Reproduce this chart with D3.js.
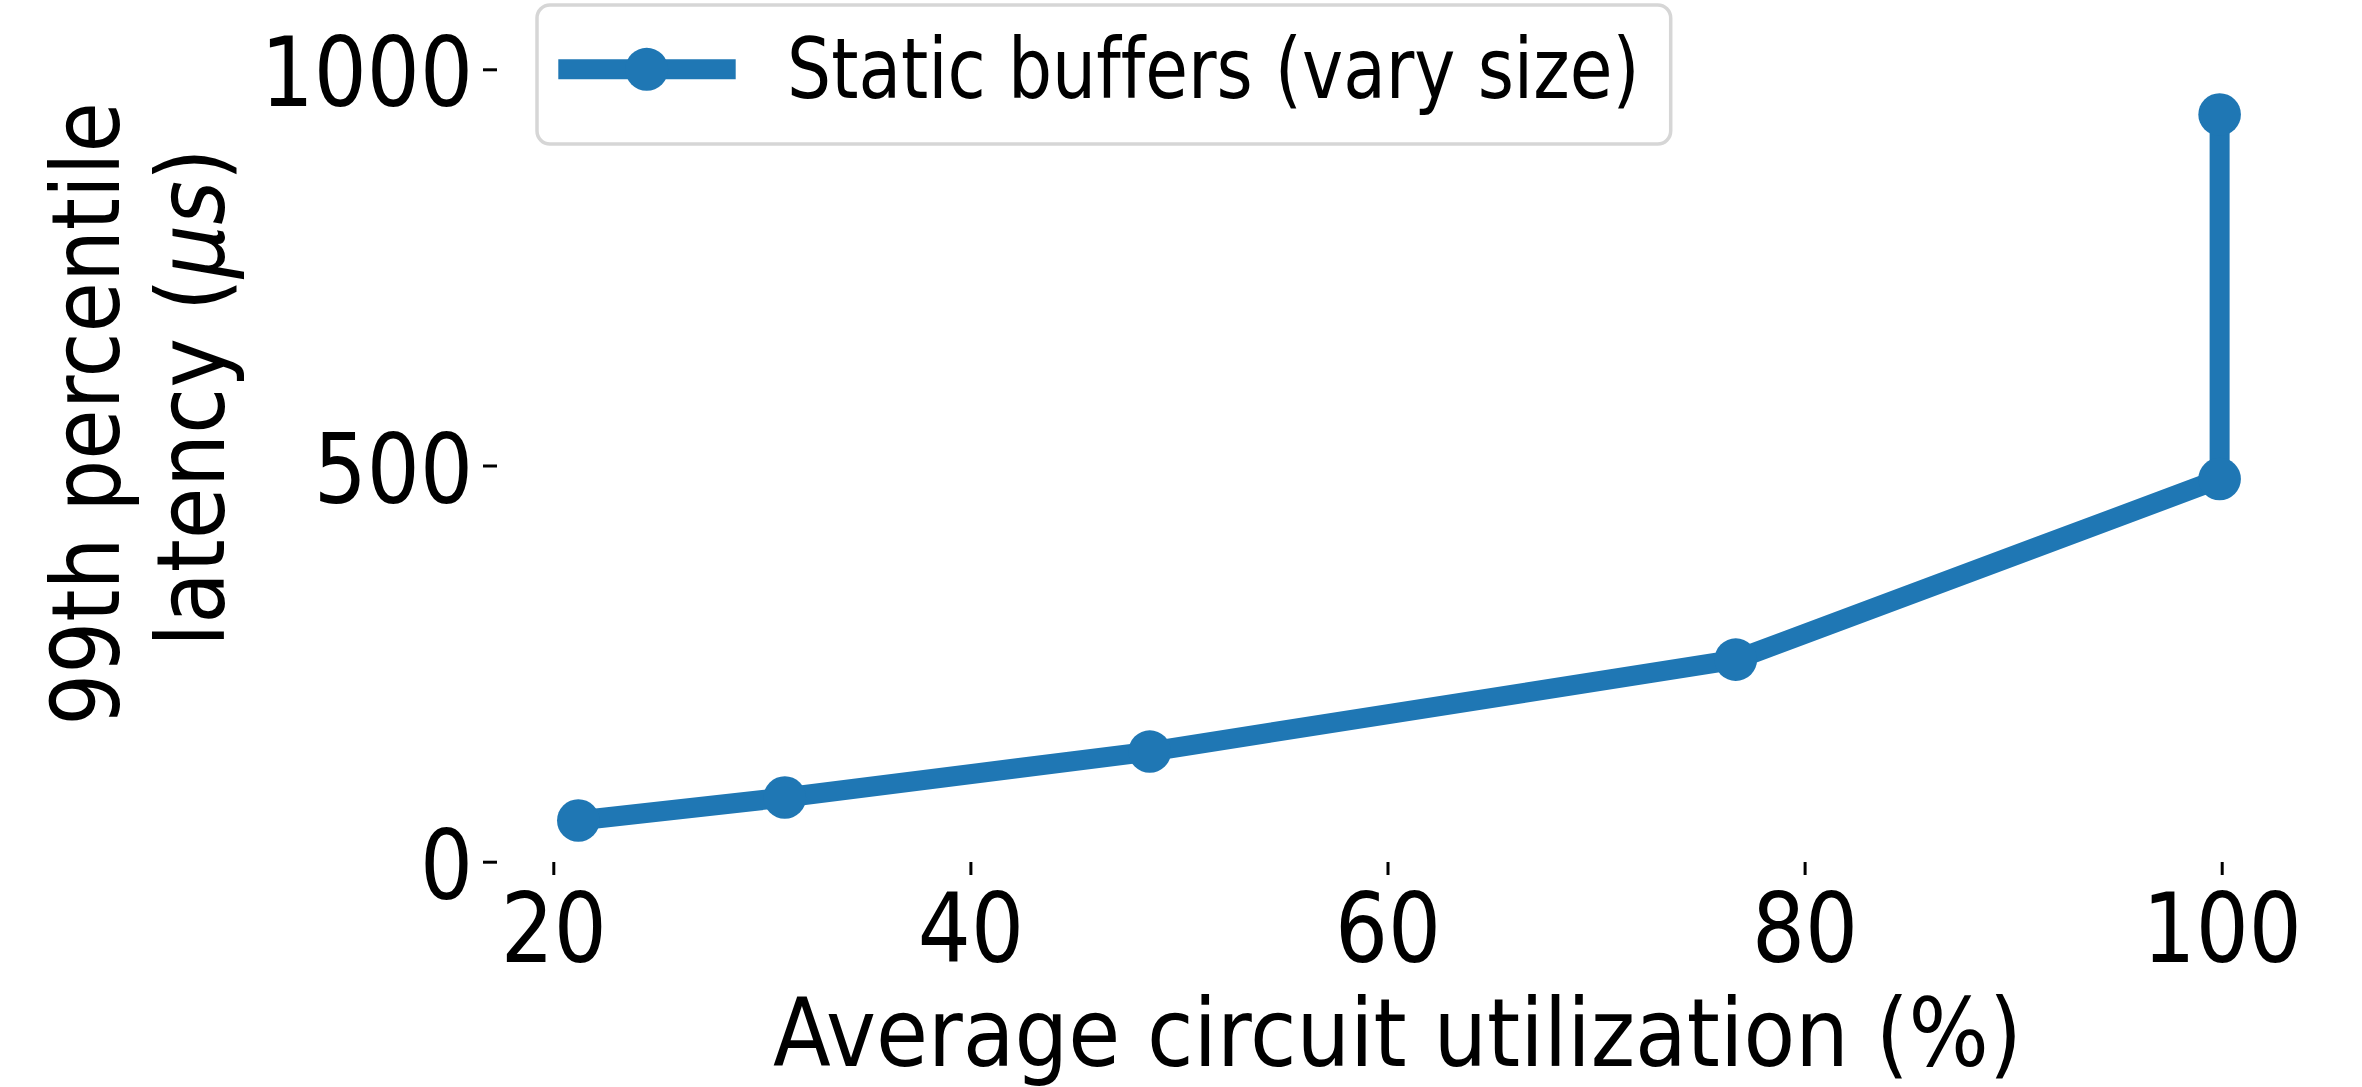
<!DOCTYPE html>
<html>
<head>
<meta charset="utf-8">
<script src="https://cdn.jsdelivr.net/npm/d3@7"></script>
<style>
  html, body { margin: 0; padding: 0; background: #fff; }
  svg { display: block; }
  text { font-family: "DejaVu Sans", sans-serif; fill: #000; font-variant-ligatures: none; font-feature-settings: "liga" 0; }
</style>
</head>
<body>
<svg id="chart" width="2362" height="1087"></svg>
<script>
// ---- data ----
const utilization = [21.2, 31.1, 48.6, 76.7, 99.9, 99.9];
const latency = [52, 81, 139, 255, 483, 943];
const seriesName = "Static buffers (vary size)";
const xTicks = [20, 40, 60, 80, 100];
const yTicks = [0, 500, 1000];
const xLabel = "Average circuit utilization (%)";
const yLabelLine1 = "99th percentile";
const yLabelLine2a = "latency (";
const yLabelLine2b = "μs";
const yLabelLine2c = ")";

// ---- layout ----
const W = 2362, H = 1087;
const color = "#1f77b4";
const condense = 0.86;
const svg = d3.select("#chart");
svg.append("rect").attr("width", W).attr("height", H).attr("fill", "#fff");

const x = d3.scaleLinear().domain([20, 100]).range([553.3, 2221.7]);
const y = d3.scaleLinear().domain([0, 1000]).range([861.7, 69.3]);

const axisX = 862, axisYx = 497;

// x axis
const gx = svg.append("g").attr("transform", `translate(0,${axisX})`)
  .call(d3.axisBottom(x).tickValues(xTicks).tickSize(13).tickFormat(d3.format("d")));
gx.select(".domain").remove();
gx.selectAll(".tick line").attr("stroke", "#000").attr("stroke-width", 3);
gx.selectAll(".tick text")
  .attr("y", null).attr("dy", null)
  .attr("font-size", 97)
  .attr("text-anchor", "middle")
  .attr("transform", `translate(0,100.3) scale(${condense},1)`);

// y axis
const gy = svg.append("g").attr("transform", `translate(${axisYx},0)`)
  .call(d3.axisLeft(y).tickValues(yTicks).tickSize(14).tickFormat(d3.format("d")));
gy.select(".domain").remove();
gy.selectAll(".tick line").attr("stroke", "#000").attr("stroke-width", 3);
gy.selectAll(".tick text")
  .attr("x", null).attr("dy", null)
  .attr("font-size", 97)
  .attr("text-anchor", "end")
  .attr("transform", `translate(-24,36.5) scale(${condense},1)`);

// axis labels
svg.append("text")
  .attr("font-size", 95)
  .attr("text-anchor", "middle")
  .attr("transform", `translate(1397.5,1066) scale(0.89,1)`)
  .text(xLabel);

svg.append("text")
  .attr("font-size", 95)
  .attr("text-anchor", "middle")
  .attr("transform", `translate(118.7,414) rotate(-90) scale(0.862,1)`)
  .text(yLabelLine1);

const l2 = svg.append("text")
  .attr("font-size", 95)
  .attr("text-anchor", "middle")
  .attr("transform", `translate(223.7,397.6) rotate(-90) scale(0.886,1)`);
l2.append("tspan").text(yLabelLine2a);
l2.append("tspan").attr("font-style", "italic").text(yLabelLine2b);
l2.append("tspan").text(yLabelLine2c);

// data line
const pts = utilization.map((u, i) => [u, latency[i]]);
const line = d3.line().x(d => x(d[0])).y(d => y(d[1]));
svg.append("path")
  .datum(pts)
  .attr("d", line)
  .attr("fill", "none")
  .attr("stroke", color)
  .attr("stroke-width", 20)
  .attr("stroke-linejoin", "round");
svg.append("g").selectAll("circle")
  .data(pts).join("circle")
  .attr("cx", d => x(d[0]))
  .attr("cy", d => y(d[1]))
  .attr("r", 21.3)
  .attr("fill", color);

// legend
const lg = svg.append("g");
lg.append("rect")
  .attr("x", 537).attr("y", 5)
  .attr("width", 1670.7 - 537).attr("height", 144 - 5)
  .attr("rx", 13).attr("ry", 13)
  .attr("fill", "#fff").attr("fill-opacity", 0.8)
  .attr("stroke", "#d6d6d6").attr("stroke-width", 3.5);
lg.append("line")
  .attr("x1", 558.3).attr("x2", 735.7)
  .attr("y1", 69.3).attr("y2", 69.3)
  .attr("stroke", color).attr("stroke-width", 20);
lg.append("circle")
  .attr("cx", 646.7).attr("cy", 69.3).attr("r", 21.5)
  .attr("fill", color);
lg.append("text")
  .attr("font-size", 83)
  .attr("transform", `translate(787,98) scale(0.838,1)`)
  .text(seriesName);
</script>
</body>
</html>
